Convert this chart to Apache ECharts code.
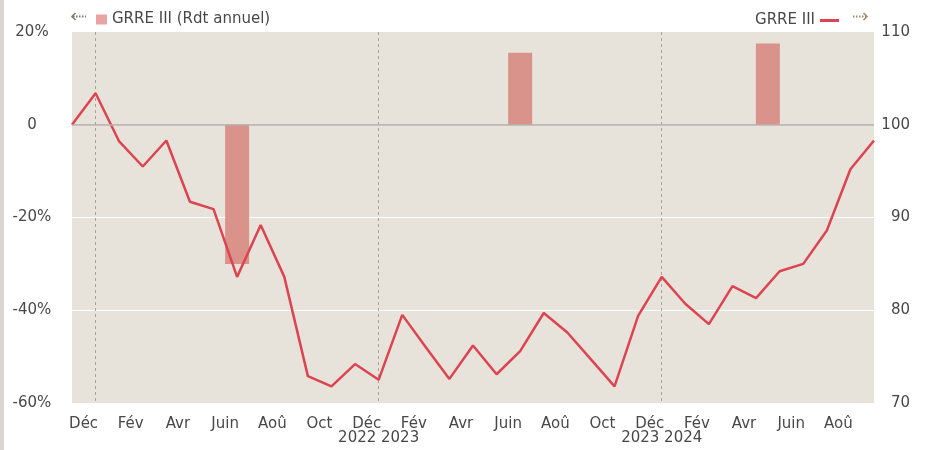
<!DOCTYPE html>
<html><head><meta charset="utf-8">
<script src="https://cdn.jsdelivr.net/npm/echarts@6/dist/echarts.min.js"></script>
<style>html,body{margin:0;padding:0;background:#fff;}#c{width:925px;height:450px;}</style>
</head><body><div id="c"></div>
<script>
// Months Nov 2021 .. Sep 2024
const categories = ['2021-11','2021-12','2022-01','2022-02','2022-03','2022-04','2022-05','2022-06','2022-07','2022-08','2022-09','2022-10','2022-11','2022-12','2023-01','2023-02','2023-03','2023-04','2023-05','2023-06','2023-07','2023-08','2023-09','2023-10','2023-11','2023-12','2024-01','2024-02','2024-03','2024-04','2024-05','2024-06','2024-07','2024-08','2024-09'];
const monthNames = ['Jan','Fév','Mar','Avr','Mai','Juin','Juil','Aoû','Sep','Oct','Nov','Déc'];
const indexValues = [100.0,103.4,98.2,95.5,98.3,91.7,90.9,83.6,89.2,83.6,72.9,71.8,74.2,72.5,79.5,76.0,72.6,76.2,73.1,75.6,79.7,77.6,74.7,71.8,79.4,83.6,80.7,78.5,82.6,81.3,84.2,85.0,88.6,95.2,98.3];
// annual return bars: position in months from Nov 2021, value in %
const barPositions = [7, 19, 29.5];
const barValues = [-30, 15.5, 17.5];
const yearLabels = {'2022-12':'2022 2023','2023-12':'2023 2024'};
const leftTicks = {min:-60, max:20, interval:20};
const rightTicks = {min:70, max:110, interval:10};

const FONT = 'DejaVu Sans';
const FS = 15;
const TXT = '#484848';
const chart = echarts.init(document.getElementById('c'), null, {renderer:'canvas'});
const isDec = (i) => categories[i].endsWith('-12');
const arrow = (x0, x1, headX, dir, color) => ({
  type:'group', silent:true, children:[
    {type:'line',shape:{x1:x0,y1:16.5,x2:x1,y2:16.5},style:{stroke:color,lineWidth:1.8,lineDash:[1.5,1.5]}},
    {type:'polyline',shape:{points:[[headX-3.5*dir,13],[headX,16.5],[headX-3.5*dir,20]]},style:{stroke:color,lineWidth:1.6,fill:null}}
  ]});
chart.setOption({
  animation:false,
  textStyle:{fontFamily:FONT},
  grid:{left:72,right:51,top:32,bottom:47,show:true,backgroundColor:'#e7e2da',borderWidth:0},
  legend:[
    {data:[{name:'GRRE III (Rdt annuel)',icon:'rect',itemStyle:{color:'#e8a4a2'}}],left:91,top:7,itemWidth:11,itemHeight:10,itemGap:5,
     textStyle:{fontFamily:FONT,fontSize:FS,color:TXT}},
    {data:[{name:'GRRE III',icon:'rect'}],right:81,top:8,align:'right',itemWidth:19,itemHeight:3,
     textStyle:{fontFamily:FONT,fontSize:FS,color:TXT}}
  ],
  xAxis:[
    {type:'category',data:categories,boundaryGap:false,
     axisLine:{show:false},axisTick:{show:false},
     axisLabel:{interval:(i)=>i%2===1,formatter:(v)=>monthNames[parseInt(v.slice(5))-1],
       fontFamily:FONT,fontSize:FS,color:TXT,margin:14,padding:[0,24,0,0]},
     splitLine:{show:true,interval:(i)=>isDec(i),lineStyle:{color:'#a8a29b',type:[3,3],width:1}}},
    {type:'category',data:categories,boundaryGap:false,position:'bottom',
     axisLine:{show:false},axisTick:{show:false},splitLine:{show:false},
     axisLabel:{interval:(i)=>!!yearLabels[categories[i]],formatter:(v)=>yearLabels[v]||'',
       fontFamily:FONT,fontSize:FS,color:TXT,margin:28}},
    {type:'value',min:0,max:categories.length-1,show:false}
  ],
  yAxis:[
    {type:'value',min:leftTicks.min,max:leftTicks.max,interval:leftTicks.interval,
     axisLine:{show:false},axisTick:{show:false},
     axisLabel:{formatter:(v)=>v===0?'0':v+'%',align:'center',margin:40,fontFamily:FONT,fontSize:FS,color:TXT},
     splitLine:{show:true,showMinLine:false,showMaxLine:false,lineStyle:{color:'#ffffff',width:1}}},
    {type:'value',min:rightTicks.min,max:rightTicks.max,interval:rightTicks.interval,position:'right',
     axisLine:{show:false},axisTick:{show:false},splitLine:{show:false},
     axisLabel:{align:'right',margin:36,fontFamily:FONT,fontSize:FS,color:TXT}}
  ],
  series:[
    {name:'GRRE III (Rdt annuel)',type:'bar',xAxisIndex:2,yAxisIndex:0,barWidth:24,
     itemStyle:{color:'#d9938b'},
     data:barPositions.map((p,i)=>[p,barValues[i]]),
     markLine:{silent:true,symbol:'none',label:{show:false},
       lineStyle:{color:'#b3ada6',width:1.5,type:'solid'},data:[{yAxis:0}]}},
    {name:'GRRE III',type:'line',xAxisIndex:0,yAxisIndex:1,data:indexValues,
     symbol:'none',lineStyle:{color:'#dc4452',width:2.5},itemStyle:{color:'#dc4452'}}
  ],
  graphic:[
    {type:'rect',left:0,top:0,shape:{width:4,height:450},style:{fill:'#ddd6d0'}},
    arrow(73, 86, 72, -1, '#7f7a75'),
    arrow(853, 866, 867, 1, '#a68c66')
  ]
});
</script></body></html>
